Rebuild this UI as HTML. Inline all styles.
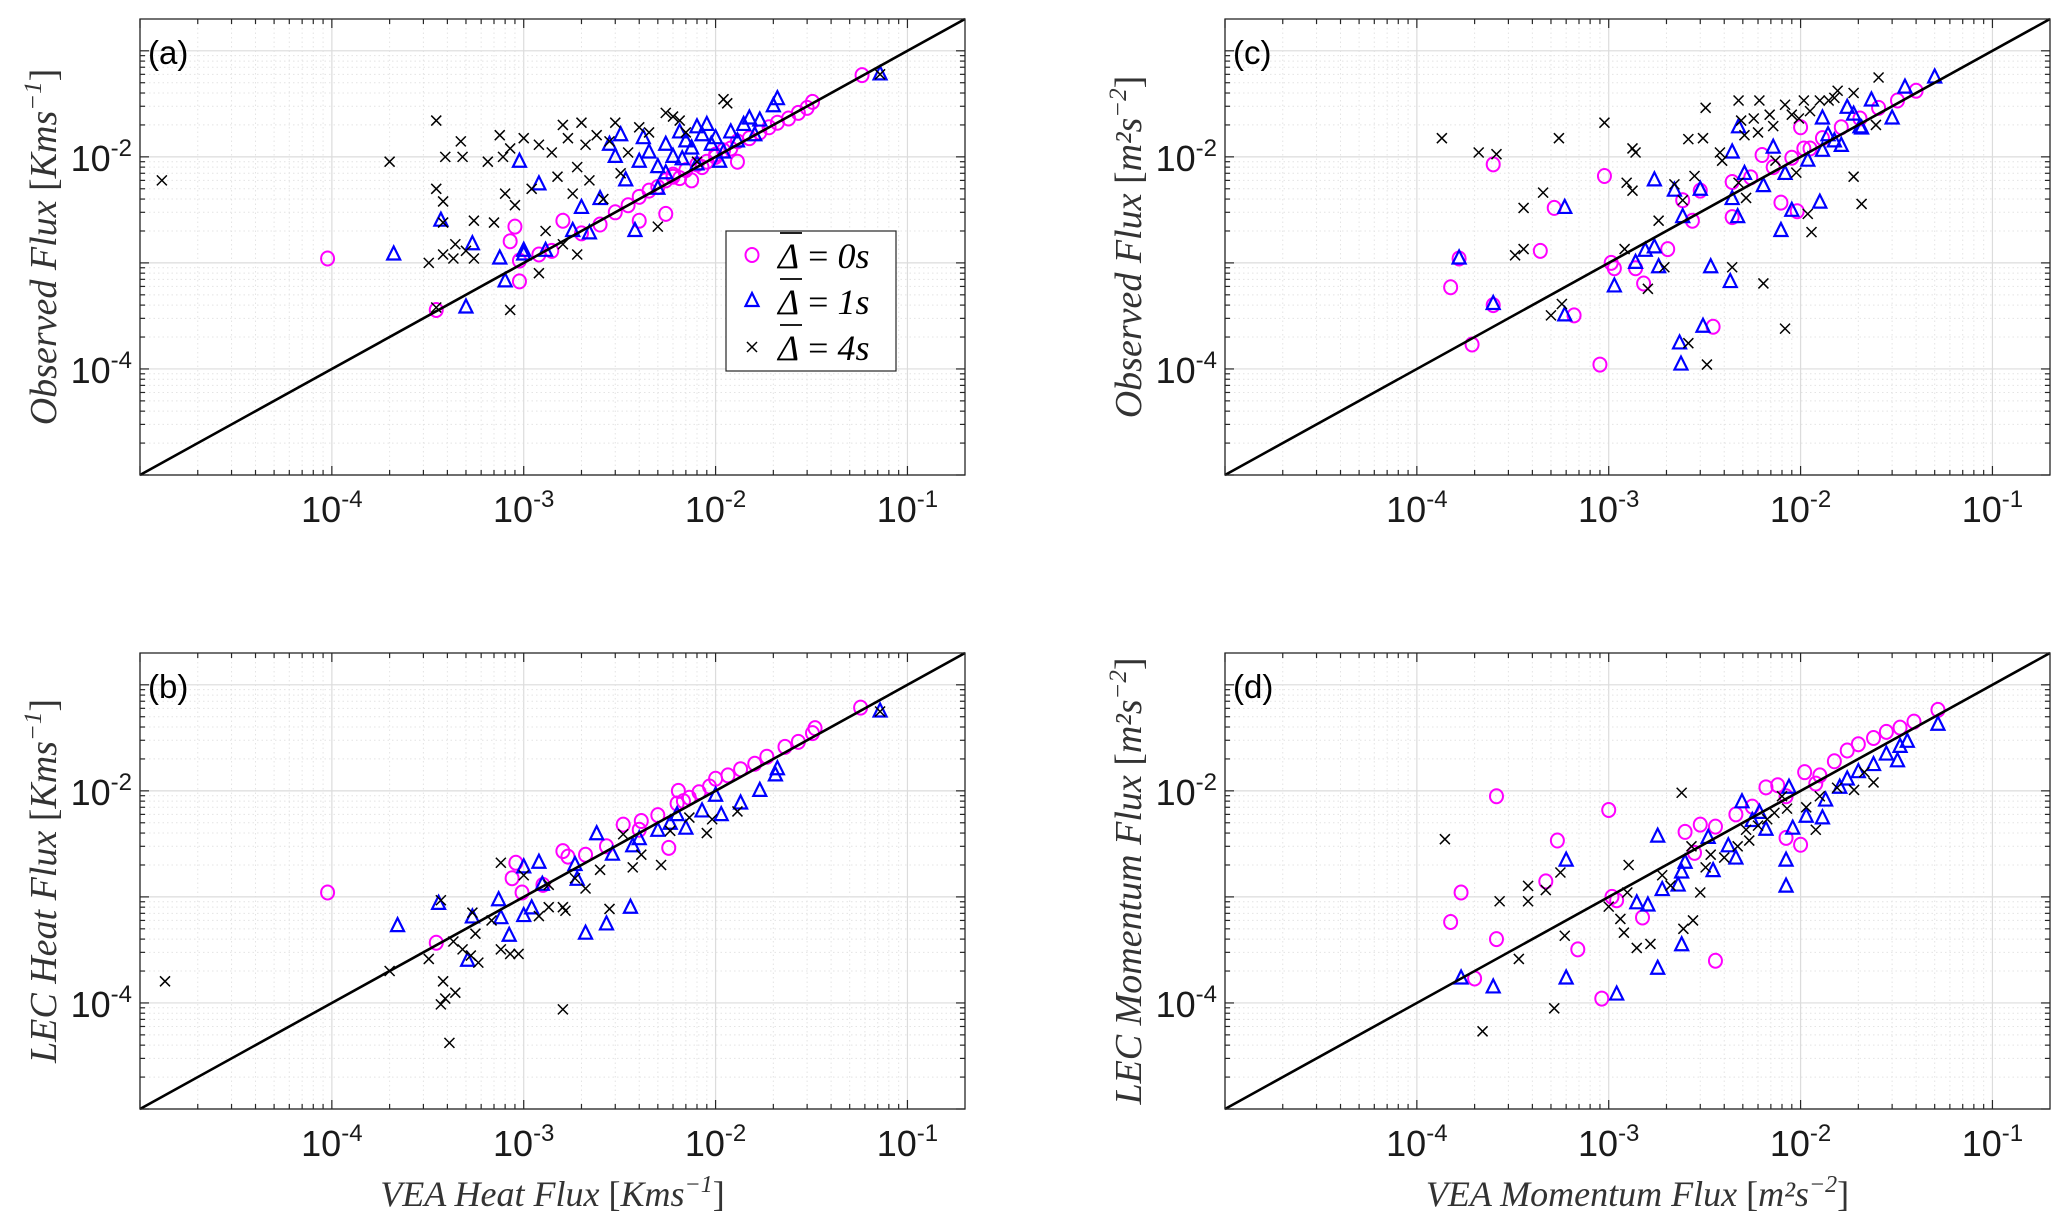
<!DOCTYPE html>
<html><head><meta charset="utf-8"><style>
html,body{margin:0;padding:0;background:#fff;}
svg{display:block;}
</style></head><body>
<svg id="fig" width="2067" height="1231" viewBox="0 0 2067 1231" xmlns="http://www.w3.org/2000/svg"></svg>
<script>
// ---------------- DATA ----------------
const tickExps = [-4, -3, -2, -1];
const yTickExps = [-4, -2];
const legendLabels = ["0s", "1s", "4s"];

// Panel (a): VEA heat flux vs observed
const aCirc = [[9.5e-5,1.1e-3],[3.5e-4,3.6e-4],[9.5e-4,6.7e-4],[9.5e-4,1.05e-3],[8.5e-4,1.6e-3],[9e-4,2.2e-3],[1.2e-3,1.2e-3],[1.4e-3,1.3e-3],[1.6e-3,2.5e-3],[2e-3,1.9e-3],[2.5e-3,2.3e-3],[3e-3,3e-3],[3.5e-3,3.5e-3],[4e-3,2.5e-3],[4e-3,4.2e-3],[4.5e-3,4.8e-3],[5e-3,5.2e-3],[5.5e-3,2.9e-3],[5.5e-3,6e-3],[6e-3,6.5e-3],[6.5e-3,6.3e-3],[7e-3,7.5e-3],[7.5e-3,6e-3],[8e-3,8.5e-3],[9e-3,9e-3],[1e-2,1e-2],[1.1e-2,1.15e-2],[1.2e-2,1.2e-2],[1.3e-2,9e-3],[1.3e-2,1.4e-2],[1.5e-2,1.5e-2],[1.7e-2,1.7e-2],[1.9e-2,1.9e-2],[2.1e-2,2.1e-2],[2.4e-2,2.3e-2],[2.7e-2,2.6e-2],[3e-2,2.9e-2],[3.2e-2,3.3e-2],[5.8e-2,5.9e-2],[6e-3,6.8e-3],[8.5e-3,8e-3],[1e-2,1.05e-2]];
const aTri = [[2.1e-4,1.2e-3],[3.7e-4,2.5e-3],[5e-4,3.8e-4],[5.4e-4,1.5e-3],[7.5e-4,1.1e-3],[8e-4,6.7e-4],[9.5e-4,9e-3],[1e-3,1.2e-3],[1.2e-3,5.5e-3],[1.3e-3,1.3e-3],[1e-3,1.3e-3],[1.8e-3,2e-3],[2e-3,3.3e-3],[2.2e-3,1.9e-3],[2.5e-3,4e-3],[2.8e-3,1.3e-2],[3e-3,1e-2],[3.2e-3,1.6e-2],[3.4e-3,6e-3],[3.8e-3,2e-3],[4e-3,9e-3],[4.2e-3,1.5e-2],[4.5e-3,1.1e-2],[5e-3,8e-3],[5e-3,5e-3],[5.5e-3,1.3e-2],[6e-3,1e-2],[6.5e-3,1.7e-2],[7e-3,1.4e-2],[7.5e-3,1.2e-2],[8e-3,1.9e-2],[8.5e-3,1.6e-2],[9e-3,2e-2],[9.5e-3,1.3e-2],[1e-2,1.5e-2],[1.1e-2,1.1e-2],[1.2e-2,1.7e-2],[1.3e-2,1.4e-2],[1.4e-2,2e-2],[1.5e-2,2.3e-2],[1.6e-2,1.6e-2],[1.7e-2,2.2e-2],[2e-2,3e-2],[2.1e-2,3.5e-2],[6.7e-3,9.5e-3],[7.2e-2,6e-2],[1.05e-2,9e-3],[8e-3,8.5e-3],[5.5e-3,7e-3]];
const aCross = [[1.3e-5,6e-3],[2e-4,9e-3],[3.5e-4,2.2e-2],[3.5e-4,5e-3],[3.8e-4,3.8e-3],[3.8e-4,2.4e-3],[3.2e-4,1e-3],[3.8e-4,1.2e-3],[4.3e-4,1.1e-3],[4.4e-4,1.5e-3],[5.5e-4,1.1e-3],[5e-4,1.3e-3],[3.9e-4,1e-2],[4.7e-4,1.4e-2],[4.8e-4,1e-2],[5.5e-4,2.5e-3],[6.5e-4,9e-3],[7e-4,2.4e-3],[7.5e-4,1.6e-2],[7.8e-4,1e-2],[8e-4,4.5e-3],[8.5e-4,1.2e-2],[9e-4,3.5e-3],[1e-3,1.5e-2],[1.1e-3,5e-3],[1.2e-3,1.3e-2],[1.3e-3,2e-3],[1.4e-3,1.1e-2],[1.5e-3,6.5e-3],[1.6e-3,2e-2],[1.7e-3,1.5e-2],[1.8e-3,4.5e-3],[1.9e-3,8e-3],[2e-3,2.1e-2],[2.1e-3,1.3e-2],[2.2e-3,6e-3],[2.4e-3,1.6e-2],[2.6e-3,4e-3],[2.8e-3,1.4e-2],[3e-3,2.1e-2],[3.2e-3,7e-3],[3.5e-3,1.1e-2],[4e-3,1.9e-2],[4.5e-3,1.7e-2],[5e-3,2.2e-3],[5.5e-3,2.6e-2],[6e-3,2.4e-2],[6.5e-3,2.2e-2],[7e-3,1.7e-2],[8e-3,9e-3],[1.1e-2,3.5e-2],[1.15e-2,3.2e-2],[3.5e-4,3.8e-4],[8.5e-4,3.6e-4],[1.9e-3,1.2e-3],[1.6e-3,1.5e-3],[7.2e-2,6e-2],[1.2e-3,8e-4]];

// Panel (b): VEA heat flux vs LEC
const bCirc = [[9.5e-5,1.1e-3],[3.5e-4,3.7e-4],[9.1e-4,2.1e-3],[8.7e-4,1.5e-3],[9.8e-4,1.1e-3],[1.6e-3,2.7e-3],[1.7e-3,2.4e-3],[1.26e-3,1.3e-3],[2.1e-3,2.5e-3],[3.3e-3,4.8e-3],[4.1e-3,5.2e-3],[5e-3,5.9e-3],[5.7e-3,2.9e-3],[6.4e-3,1e-2],[6.3e-3,7.6e-3],[7.3e-3,8.6e-3],[8.2e-3,9.7e-3],[1e-2,1.3e-2],[1.16e-2,1.4e-2],[1.35e-2,1.6e-2],[1.6e-2,1.8e-2],[1.85e-2,2.1e-2],[2.3e-2,2.6e-2],[2.7e-2,2.9e-2],[3.2e-2,3.5e-2],[3.3e-2,3.9e-2],[5.7e-2,6.1e-2],[4e-3,4.3e-3],[2.7e-3,3e-3],[9.3e-3,1.1e-2],[6.8e-3,8e-3]];
const bTri = [[2.2e-4,5.3e-4],[3.6e-4,8.6e-4],[5.4e-4,6.4e-4],[5.1e-4,2.5e-4],[7.4e-4,9.3e-4],[8.4e-4,4.3e-4],[7.6e-4,6.3e-4],[1e-3,1.9e-3],[1e-3,6.6e-4],[1.1e-3,7.8e-4],[1.2e-3,2.1e-3],[1.25e-3,1.3e-3],[1.85e-3,2e-3],[1.9e-3,1.45e-3],[2.1e-3,4.5e-4],[2.4e-3,3.9e-3],[2.7e-3,5.5e-4],[3.6e-3,7.9e-4],[2.9e-3,2.5e-3],[4e-3,3.5e-3],[5e-3,4.2e-3],[5.8e-3,4.9e-3],[7e-3,4.4e-3],[8.5e-3,6.4e-3],[1.07e-2,5.9e-3],[1.35e-2,7.6e-3],[1.7e-2,1e-2],[2.05e-2,1.4e-2],[2.1e-2,1.6e-2],[1e-2,9e-3],[7.2e-2,5.6e-2],[6.3e-3,5.9e-3],[3.7e-3,3e-3]];
const bCross = [[1.35e-5,1.6e-4],[2e-4,2e-4],[3.2e-4,2.6e-4],[3.7e-4,9.3e-4],[3.8e-4,1.6e-4],[3.7e-4,9.7e-5],[3.9e-4,1.1e-4],[4.4e-4,1.25e-4],[4.1e-4,4.2e-5],[4.3e-4,3.8e-4],[4.8e-4,3.2e-4],[5.3e-4,2.8e-4],[5.8e-4,2.4e-4],[5.6e-4,4.5e-4],[5.4e-4,7.1e-4],[6.8e-4,6e-4],[7.6e-4,3.2e-4],[8.5e-4,2.9e-4],[9.4e-4,2.9e-4],[7.6e-4,2.1e-3],[1e-3,1.6e-3],[1.2e-3,6.6e-4],[1.35e-3,8e-4],[1.6e-3,8e-4],[1.65e-3,7.4e-4],[1.6e-3,8.7e-5],[2.1e-3,1.2e-3],[2.8e-3,7.7e-4],[2.5e-3,1.8e-3],[3.7e-3,1.9e-3],[5.2e-3,2e-3],[4.1e-3,2.5e-3],[5.8e-3,4.2e-3],[7.3e-3,5.6e-3],[9e-3,4e-3],[9.6e-3,5.4e-3],[1.3e-2,6.4e-3],[3.3e-3,3.9e-3],[1.85e-3,1.5e-3],[1.35e-3,1.3e-3],[7.2e-2,5.6e-2]];

// Panel (c): VEA momentum flux vs observed
const cCirc = [[2.5e-4,8.5e-3],[1.5e-4,5.9e-4],[1.66e-4,1.1e-3],[1.94e-4,1.7e-4],[2.5e-4,4e-4],[4.4e-4,1.3e-3],[5.2e-4,3.3e-3],[6.6e-4,3.2e-4],[9e-4,1.1e-4],[9.5e-4,6.6e-3],[1.03e-3,1e-3],[1.07e-3,8.9e-4],[1.38e-3,8.9e-4],[1.52e-3,6.4e-4],[2.03e-3,1.35e-3],[2.43e-3,3.9e-3],[2.73e-3,2.5e-3],[3e-3,4.8e-3],[3.5e-3,2.5e-4],[4.4e-3,2.7e-3],[4.4e-3,5.8e-3],[5.5e-3,6.4e-3],[6.3e-3,1.04e-2],[7.9e-3,3.7e-3],[9.6e-3,3.07e-3],[1e-2,1.9e-2],[1.04e-2,1.2e-2],[1.3e-2,1.5e-2],[1.63e-2,1.9e-2],[2.04e-2,2.3e-2],[2.55e-2,2.9e-2],[3.2e-2,3.4e-2],[4e-2,4.2e-2],[7.2e-3,8e-3],[9e-3,9.8e-3],[1.12e-2,1.2e-2]];
const cTri = [[1.66e-4,1.1e-3],[2.5e-4,4.1e-4],[5.9e-4,3.3e-3],[5.9e-4,3.2e-4],[1.07e-3,6e-4],[1.38e-3,1e-3],[1.55e-3,1.3e-3],[1.73e-3,1.4e-3],[1.73e-3,6e-3],[1.82e-3,9.1e-4],[2.2e-3,4.8e-3],[2.34e-3,1.74e-4],[2.38e-3,1.1e-4],[2.43e-3,2.7e-3],[3e-3,4.9e-3],[3.1e-3,2.5e-4],[3.4e-3,9.1e-4],[4.3e-3,6.6e-4],[4.4e-3,4e-3],[4.7e-3,2.7e-3],[4.4e-3,1.1e-2],[4.75e-3,1.9e-2],[5.1e-3,6.9e-3],[6.4e-3,5.3e-3],[7.2e-3,1.22e-2],[7.9e-3,2e-3],[8.3e-3,6.9e-3],[9e-3,3.1e-3],[1.09e-2,9.2e-3],[1.26e-2,3.7e-3],[1.3e-2,2.3e-2],[1.5e-2,1.4e-2],[1.63e-2,1.27e-2],[1.75e-2,2.9e-2],[2.04e-2,1.9e-2],[2.08e-2,1.85e-2],[2.34e-2,3.4e-2],[3e-2,2.3e-2],[3.5e-2,4.5e-2],[5e-2,5.6e-2],[1.39e-2,1.6e-2],[1.89e-2,2.5e-2],[1.3e-2,1.14e-2]];
const cCross = [[1.35e-4,1.5e-2],[2.1e-4,1.1e-2],[2.6e-4,1.06e-2],[3.25e-4,1.18e-3],[3.6e-4,1.35e-3],[3.6e-4,3.3e-3],[4.55e-4,4.6e-3],[5.5e-4,1.5e-2],[5e-4,3.2e-4],[5.7e-4,4.1e-4],[9.5e-4,2.1e-2],[1.21e-3,1.35e-3],[1.24e-3,5.7e-3],[1.33e-3,1.2e-2],[1.38e-3,1.1e-2],[1.33e-3,4.8e-3],[1.6e-3,5.7e-4],[1.82e-3,2.5e-3],[1.95e-3,9.1e-4],[2.2e-3,5.5e-3],[2.43e-3,3.9e-3],[2.6e-3,1.47e-2],[2.6e-3,1.75e-4],[2.8e-3,6.6e-3],[3.1e-3,1.5e-2],[3.2e-3,2.9e-2],[3.25e-3,1.1e-4],[3.8e-3,1.1e-2],[3.9e-3,9.2e-3],[4.4e-3,9.1e-4],[4.75e-3,3.4e-2],[4.75e-3,5.7e-3],[4.9e-3,2.2e-2],[5.1e-3,1.6e-2],[5.2e-3,4.1e-3],[5.7e-3,2.3e-2],[6e-3,1.7e-2],[6.1e-3,3.4e-2],[6.4e-3,6.4e-4],[6.9e-3,2.5e-2],[7.2e-3,1.95e-2],[7.4e-3,9.2e-3],[8.3e-3,2.4e-4],[8.3e-3,3.1e-2],[9e-3,2.5e-2],[9.5e-3,7.1e-3],[1.04e-2,3.4e-2],[1.09e-2,2.9e-3],[1.14e-2,1.95e-3],[1.26e-2,3.4e-2],[1.4e-2,3.4e-2],[1.5e-2,3.6e-2],[1.56e-2,4.2e-2],[1.89e-2,4e-2],[1.89e-2,6.5e-3],[2.08e-2,3.6e-3],[2.55e-2,5.6e-2],[2.47e-2,2e-2],[1.12e-2,2.7e-2],[9.8e-3,2.3e-2]];

// Panel (d): VEA momentum flux vs LEC
const dCirc = [[2.6e-4,8.9e-3],[1e-3,6.6e-3],[5.4e-4,3.4e-3],[1.7e-4,1.1e-3],[1.5e-4,5.8e-4],[2.6e-4,4e-4],[2e-4,1.7e-4],[4.7e-4,1.4e-3],[6.9e-4,3.2e-4],[9.2e-4,1.1e-4],[1.04e-3,1e-3],[1.1e-3,9.3e-4],[1.5e-3,6.4e-4],[3.6e-3,2.5e-4],[2.5e-3,4.1e-3],[3e-3,4.8e-3],[3.6e-3,4.6e-3],[2.8e-3,2.6e-3],[4.6e-3,6e-3],[6.6e-3,1.08e-2],[7.6e-3,1.13e-2],[8.4e-3,3.6e-3],[1e-2,3.1e-3],[1.05e-2,1.5e-2],[1.26e-2,1.4e-2],[1.5e-2,1.9e-2],[1.75e-2,2.4e-2],[2e-2,2.75e-2],[2.4e-2,3.15e-2],[2.8e-2,3.6e-2],[3.3e-2,3.95e-2],[3.9e-2,4.5e-2],[5.2e-2,5.8e-2],[5.6e-3,7.1e-3],[8.4e-3,8.9e-3],[1.2e-2,1.17e-2]];
const dTri = [[1.7e-4,1.7e-4],[2.5e-4,1.4e-4],[6e-4,2.2e-3],[6e-4,1.7e-4],[1.1e-3,1.2e-4],[1.4e-3,8.7e-4],[1.6e-3,8.3e-4],[1.8e-3,3.7e-3],[1.8e-3,2.1e-4],[1.9e-3,1.16e-3],[2.3e-3,1.28e-3],[2.4e-3,1.7e-3],[2.5e-3,2.1e-3],[2.4e-3,3.5e-4],[3.3e-3,3.6e-3],[3.5e-3,1.75e-3],[4.6e-3,2.3e-3],[4.95e-3,7.8e-3],[4.2e-3,3e-3],[5.6e-3,5.2e-3],[6.6e-3,4.3e-3],[8.4e-3,2.2e-3],[8.4e-3,1.25e-3],[8.7e-3,1.07e-2],[9.1e-3,4.4e-3],[1.07e-2,5.7e-3],[1.3e-2,5.5e-3],[1.35e-2,8.1e-3],[1.6e-2,1.07e-2],[2e-2,1.5e-2],[2.4e-2,1.75e-2],[2.8e-2,2.2e-2],[3.2e-2,1.9e-2],[3.3e-2,2.6e-2],[3.6e-2,2.9e-2],[5.2e-2,4.2e-2],[1.75e-2,1.28e-2],[6.1e-3,6.2e-3]];
const dCross = [[1.4e-4,3.5e-3],[2.2e-4,5.4e-5],[2.7e-4,9.1e-4],[3.4e-4,2.6e-4],[3.8e-4,9.1e-4],[3.8e-4,1.27e-3],[4.7e-4,1.16e-3],[5.2e-4,8.9e-5],[5.6e-4,1.7e-3],[5.9e-4,4.3e-4],[1e-3,8.1e-4],[1.15e-3,6.2e-4],[1.2e-3,4.6e-4],[1.25e-3,1.1e-3],[1.27e-3,2e-3],[1.4e-3,3.3e-4],[1.65e-3,3.6e-4],[1.9e-3,1.6e-3],[2.1e-3,1.28e-3],[2.4e-3,9.6e-3],[2.45e-3,5e-4],[2.75e-3,6e-4],[3e-3,1.1e-3],[3.2e-3,1.9e-3],[3.4e-3,2.5e-3],[4e-3,2.35e-3],[4.7e-3,3e-3],[5.4e-3,3.4e-3],[5.2e-3,4.3e-3],[6e-3,4.7e-3],[6.7e-3,5.4e-3],[7.3e-3,6.2e-3],[8.5e-3,6.8e-3],[1.07e-2,7e-3],[1.2e-2,4.3e-3],[1.26e-2,8.9e-3],[1.55e-2,1.07e-2],[1.9e-2,1.02e-2],[2.4e-2,1.2e-2],[2.15e-2,1.5e-2],[8e-3,8.9e-3],[2.7e-3,3e-3]];

// ---------------- RENDER ----------------
const NS = "http://www.w3.org/2000/svg";
const svg = document.getElementById("fig");
const LOGMIN = -5.0, LOGMAX = -0.7;

function mk(tag, attrs, parent) {
  const e = document.createElementNS(NS, tag);
  for (const k in attrs) e.setAttribute(k, attrs[k]);
  (parent || svg).appendChild(e);
  return e;
}

function drawPanel(p) {
  const g = mk("g", {});
  
  
  const L = p.x0, R = p.x1, T = p.y0, B = p.y1;
  const sx = v => L + (Math.log10(v) - LOGMIN) / (LOGMAX - LOGMIN) * (R - L);
  const sy = v => B - (Math.log10(v) - LOGMIN) / (LOGMAX - LOGMIN) * (B - T);

  const grid = mk("g", {}, g);
  
  
  for (let d = -5; d <= -1; d++) {
    for (let m = 1; m <= 9; m++) {
      const v = m * Math.pow(10, d);
      const lv = Math.log10(v);
      if (lv < LOGMIN - 1e-9 || lv > LOGMAX + 1e-9) continue;
      const major = m === 1;
      const X = sx(v), Y = sy(v);
      const st = major ? {stroke:"#dcdcdc","stroke-width":1.2} : {stroke:"#e4e4e4","stroke-width":1,"stroke-dasharray":"1.5,3"};
      mk("line", Object.assign({x1:X,x2:X,y1:T,y2:B}, st), grid);
      mk("line", Object.assign({x1:L,x2:R,y1:Y,y2:Y}, st), grid);
      const tl = major ? 9 : 5;
      const tk = {stroke:"#262626","stroke-width":1.2};
      mk("line", Object.assign({x1:X,x2:X,y1:B,y2:B-tl}, tk), grid);
      mk("line", Object.assign({x1:X,x2:X,y1:T,y2:T+tl}, tk), grid);
      mk("line", Object.assign({x1:L,x2:L+tl,y1:Y,y2:Y}, tk), grid);
      mk("line", Object.assign({x1:R,x2:R-tl,y1:Y,y2:Y}, tk), grid);
    }
  }

  const drawSeries = (pts, type, name) => {
    const sg = mk("g", {}, g);
    
    
    pts.forEach(pt => {
      const X = sx(pt[0]), Y = sy(pt[1]);
      let el;
      if (type === "circ") {
        el = mk("ellipse", {cx:X, cy:Y, rx:6.5, ry:7, fill:"none", stroke:"#ff00ff", "stroke-width":2}, sg);
      } else if (type === "tri") {
        el = mk("polygon", {points:`${X},${Y-8} ${X-6.5},${Y+5} ${X+6.5},${Y+5}`, fill:"none", stroke:"#0000ff", "stroke-width":2.2}, sg);
      } else {
        el = mk("path", {d:`M${X-5},${Y-5}L${X+5},${Y+5}M${X-5},${Y+5}L${X+5},${Y-5}`, stroke:"#000", "stroke-width":1.5, fill:"none"}, sg);
      }
      
      
    });
  };
  drawSeries(p.circ, "circ", "series-0s");
  drawSeries(p.tri, "tri", "series-1s");
  drawSeries(p.cross, "cross", "series-4s");

  const ln = mk("line", {x1:sx(Math.pow(10,LOGMIN)), y1:sy(Math.pow(10,LOGMIN)), x2:sx(Math.pow(10,LOGMAX)), y2:sy(Math.pow(10,LOGMAX)), stroke:"#000","stroke-width":2.6}, g);
  
  

  const box = mk("rect", {x:L, y:T, width:R-L, height:B-T, fill:"none", stroke:"#262626", "stroke-width":1.3}, g);
  
  

  tickExps.forEach(e => {
    const t = mk("text", {x:sx(Math.pow(10,e)), y:B+47, "text-anchor":"middle", "font-family":"Liberation Sans, Arial, sans-serif", "font-size":36, fill:"#1a1a1a"}, g);
    
    
    t.appendChild(document.createTextNode("10"));
    const s = mk("tspan", {dy:-15, "font-size":24}, t);
    s.textContent = String(e);
  });
  yTickExps.forEach(e => {
    const t = mk("text", {x:L-8, y:sy(Math.pow(10,e))+14, "text-anchor":"end", "font-family":"Liberation Sans, Arial, sans-serif", "font-size":36, fill:"#1a1a1a"}, g);
    
    
    t.appendChild(document.createTextNode("10"));
    const s = mk("tspan", {dy:-15, "font-size":24}, t);
    s.textContent = String(e);
  });

  const pl = mk("text", {x:L+8, y:T+45, "font-family":"Liberation Sans, Arial, sans-serif", "font-size":33, fill:"#000"}, g);
  
  
  pl.textContent = "(" + p.id + ")";

  const cy = (T + B) / 2;
  const yl = mk("text", {x:0, y:0, transform:`translate(${L-84},${cy}) rotate(-90)`, "text-anchor":"middle", "font-family":"Liberation Serif, serif", "font-size":38, fill:"#333"}, g);
  
  
  yl.innerHTML = `<tspan font-style="italic">${p.ylab}</tspan>  [<tspan font-style="italic">${p.unit1}</tspan><tspan font-style="italic" dy="-15" font-size="25">${p.exp}</tspan><tspan dy="15">]</tspan>`;
  if (p.xlab) {
    const xl = mk("text", {x:(L+R)/2, y:B+97, "text-anchor":"middle", "font-family":"Liberation Serif, serif", "font-size":36, fill:"#333"}, g);
    
    
    xl.innerHTML = `<tspan font-style="italic">${p.xlab}</tspan> [<tspan font-style="italic">${p.unit1}</tspan><tspan font-style="italic" dy="-14" font-size="24">${p.exp}</tspan><tspan dy="14">]</tspan>`;
  }
}

drawPanel({id:"a", x0:140, x1:965, y0:19, y1:475, circ:aCirc, tri:aTri, cross:aCross, ylab:"Observed  Flux", unit1:"Kms", exp:"−1"});
drawPanel({id:"b", x0:140, x1:965, y0:653, y1:1109, circ:bCirc, tri:bTri, cross:bCross, ylab:"LEC  Heat  Flux", unit1:"Kms", exp:"−1", xlab:"VEA Heat Flux"});
drawPanel({id:"c", x0:1225, x1:2050, y0:19, y1:475, circ:cCirc, tri:cTri, cross:cCross, ylab:"Observed  Flux", unit1:"m²s", exp:"−2"});
drawPanel({id:"d", x0:1225, x1:2050, y0:653, y1:1109, circ:dCirc, tri:dTri, cross:dCross, ylab:"LEC  Momentum  Flux", unit1:"m²s", exp:"−2", xlab:"VEA Momentum Flux"});

const lg = mk("g", {});


mk("rect", {x:726, y:231, width:170, height:140, fill:"#fff", stroke:"#262626", "stroke-width":1.2}, lg);
legendLabels.forEach((lab, i) => {
  const y = 255 + i * 46;
  const eg = mk("g", {}, lg);
  
  
  const X = 752;
  if (i === 0) mk("ellipse", {cx:X, cy:y, rx:6.5, ry:7, fill:"none", stroke:"#ff00ff", "stroke-width":2}, eg);
  else if (i === 1) mk("polygon", {points:`${X},${y-8} ${X-6.5},${y+5} ${X+6.5},${y+5}`, fill:"none", stroke:"#0000ff", "stroke-width":2.2}, eg);
  else mk("path", {d:`M${X-5},${y-5}L${X+5},${y+5}M${X-5},${y+5}L${X+5},${y-5}`, stroke:"#000", "stroke-width":1.5}, eg);
  mk("line", {x1:780, x2:802, y1:y-22, y2:y-22, stroke:"#000", "stroke-width":1.8}, eg);
  const t = mk("text", {x:778, y:y+13, "font-family":"Liberation Serif, serif", "font-size":36, fill:"#000"}, eg);
  t.innerHTML = `<tspan font-style="italic">Δ</tspan> = <tspan font-style="italic">${lab}</tspan>`;
});
</script>
</body></html>
